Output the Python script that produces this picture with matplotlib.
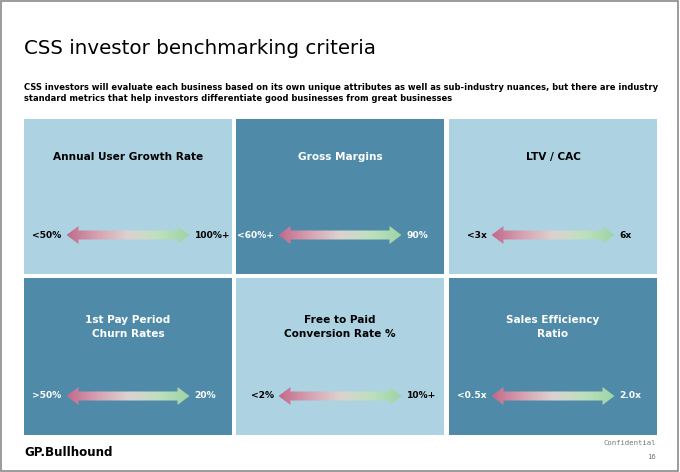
import matplotlib.pyplot as plt
import numpy as np
from matplotlib.patches import Rectangle, Polygon
from matplotlib.colors import LinearSegmentedColormap

# Slide content
title = 'CSS investor benchmarking criteria'
subtitle = ('CSS investors will evaluate each business based on its own unique attributes as well as sub-industry nuances, but there are industry\n'
            'standard metrics that help investors differentiate good businesses from great businesses')
metrics = ['Annual User Growth Rate', 'Gross Margins', 'LTV / CAC',
           '1st Pay Period\nChurn Rates', 'Free to Paid\nConversion Rate %', 'Sales Efficiency\nRatio']
low_labels = ['<50%', '<60%+', '<3x', '>50%', '<2%', '<0.5x']
high_labels = ['100%+', '90%', '6x', '20%', '10%+', '2.0x']
dark_panel = [False, True, False, True, False, True]

LIGHT = '#add3e3'
DARK = '#4f8ba8'
FONT = 'DejaVu Sans'

grad = LinearSegmentedColormap.from_list(
    'pg', ['#c26a8b', '#d6a2b3', '#dcd3d0', '#bde0bf', '#9dd4a4'])

fig = plt.figure(figsize=(6.8, 4.72), dpi=100)
ax = fig.add_axes([0, 0, 1, 1])
ax.set_xlim(0, 680)
ax.set_ylim(472, 0)
ax.axis('off')

# slide frame
ax.add_patch(Rectangle((1, 1), 677, 470, fill=False, edgecolor='#8a8a8a', lw=1.2))

ax.text(24, 48, title, fontsize=14.3, family=FONT, va='center', ha='left', color='black')
ax.text(24, 93, subtitle, fontsize=6.05, family=FONT, fontweight='bold', va='center',
        ha='left', linespacing=1.4, color='black')

col_x = [24, 236, 449]
col_w = 208
row_y = [119, 278]
row_h = [155, 157]
arrow_len = 123

for i, name in enumerate(metrics):
    r, c = divmod(i, 3)
    x0, y0 = col_x[c], row_y[r]
    h = row_h[r]
    face = DARK if dark_panel[i] else LIGHT
    tc = 'white' if dark_panel[i] else 'black'
    ax.add_patch(Rectangle((x0, y0), col_w, h, facecolor=face, edgecolor='none', zorder=1))

    ty = y0 + 38 if r == 0 else y0 + 49
    ax.text(x0 + col_w / 2, ty, name, fontsize=7.6, family=FONT, fontweight='bold',
            ha='center', va='center', color=tc, linespacing=1.6)

    # double-headed gradient arrow
    cy = y0 + 116 if r == 0 else y0 + 118
    cx = x0 + col_w / 2
    ax0, ax1 = cx - arrow_len / 2, cx + arrow_len / 2
    hl, hh, sh = 12, 9, 4.5
    verts = [(ax0, cy), (ax0 + hl, cy - hh), (ax0 + hl, cy - sh), (ax1 - hl, cy - sh),
             (ax1 - hl, cy - hh), (ax1, cy), (ax1 - hl, cy + hh), (ax1 - hl, cy + sh),
             (ax0 + hl, cy + sh), (ax0 + hl, cy + hh)]
    poly = Polygon(verts, closed=True, facecolor='none', edgecolor='none', zorder=2)
    ax.add_patch(poly)
    im = ax.imshow(np.linspace(0, 1, 256).reshape(1, -1), cmap=grad, aspect='auto',
                   extent=(ax0, ax1, cy + hh, cy - hh), interpolation='bilinear', zorder=3)
    im.set_clip_path(poly)

    ax.text(ax0 - 5, cy, low_labels[i], fontsize=6.6, family=FONT, fontweight='bold',
            ha='right', va='center', color=tc)
    ax.text(ax1 + 5, cy, high_labels[i], fontsize=6.6, family=FONT, fontweight='bold',
            ha='left', va='center', color=tc)

ax.text(24, 453, 'GP.Bullhound', fontsize=8.6, family=FONT, fontweight='bold',
        ha='left', va='center', color='black')
ax.text(656, 443, 'Confidential', fontsize=5.2, family='DejaVu Sans Mono',
        ha='right', va='center', color='#777777')
ax.text(656, 457, '16', fontsize=5.2, family='DejaVu Sans Mono',
        ha='right', va='center', color='#777777')

ax.set_xlim(0, 680)
ax.set_ylim(472, 0)
fig.savefig('out.png', dpi=100)
